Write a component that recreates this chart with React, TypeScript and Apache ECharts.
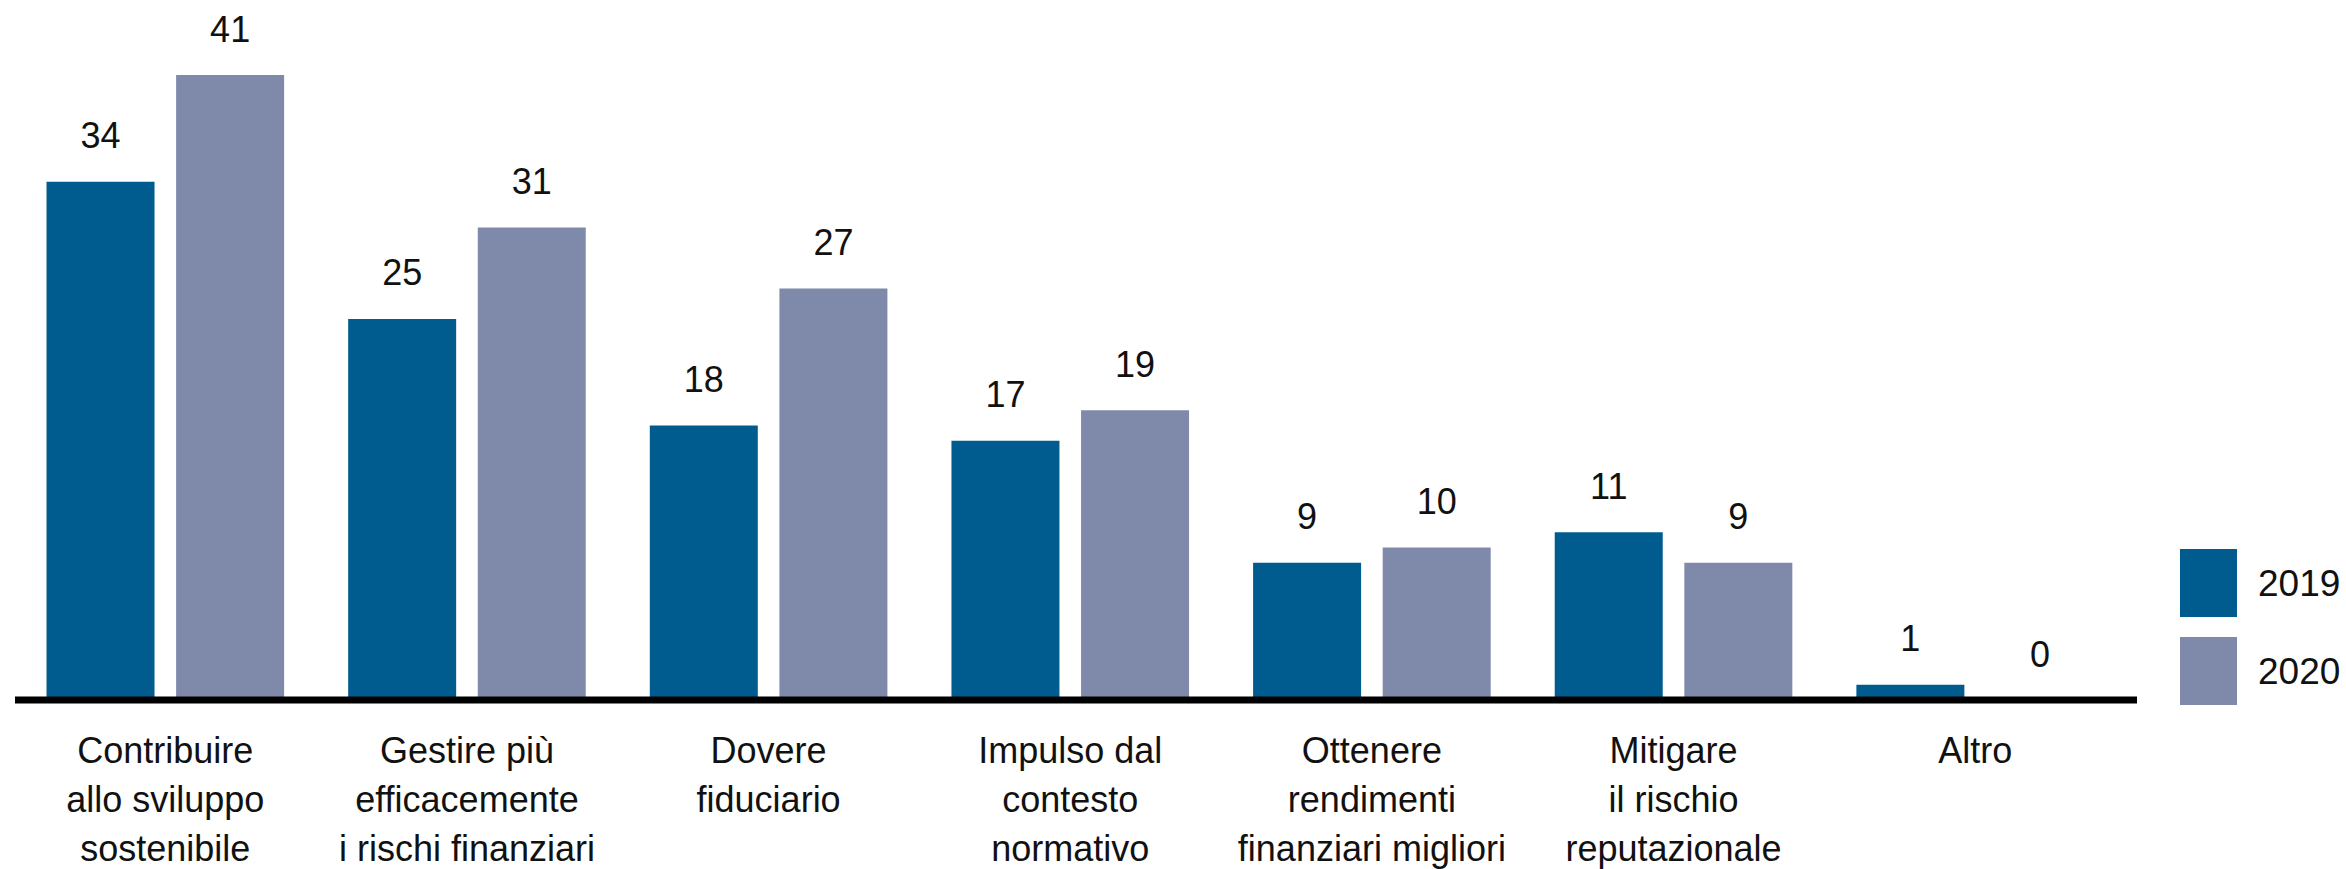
import React, { useEffect, useRef } from "react";
import * as echarts from "echarts";

const categories = [
  "Contribuire\nallo sviluppo\nsostenibile",
  "Gestire più\nefficacemente\ni rischi finanziari",
  "Dovere\nfiduciario",
  "Impulso dal\ncontesto\nnormativo",
  "Ottenere\nrendimenti\nfinanziari migliori",
  "Mitigare\nil rischio\nreputazionale",
  "Altro",
];
const values2019 = [34, 25, 18, 17, 9, 11, 1];
const values2020 = [41, 31, 27, 19, 10, 9, 0];
const seriesNames = ["2019", "2020"];
const colors = ["#005c8f", "#7f8aaa"];

const FONT = '"Liberation Sans Narrow", "Arial Narrow", "Liberation Sans", Arial, sans-serif';

export default function App() {
  const ref = useRef<HTMLDivElement>(null);
  useEffect(() => {
    document.body.style.margin = "0";
    const chart = echarts.init(ref.current!, null, { renderer: "svg" });
    const label = {
      show: true,
      position: "top",
      distance: 28,
      fontSize: 36,
      fontFamily: FONT,
      color: "#111",
    };
    chart.setOption({
      animation: false,
      backgroundColor: "#fff",
      textStyle: { fontFamily: FONT },
      grid: {
        left: 14.5,
        right: 220,
        top: 75,
        bottom: 169,
        containLabel: false,
        outerBoundsMode: "none",
      },
      legend: {
        orient: "vertical",
        left: 2175,
        top: 544,
        itemWidth: 57,
        itemHeight: 68,
        itemGap: 20,
        icon: "rect",
        data: seriesNames,
        textStyle: { fontSize: 37, fontFamily: FONT, color: "#111", padding: [0, 0, 0, 16] },
      },
      xAxis: {
        type: "category",
        data: categories,
        axisLine: { show: false },
        axisTick: { show: false },
        axisLabel: {
          interval: 0,
          margin: 26,
          fontSize: 36,
          lineHeight: 49,
          fontFamily: FONT,
          color: "#111",
          align: "center",
          verticalAlign: "top",
        },
      },
      yAxis: {
        type: "value",
        min: 0,
        max: 41,
        show: false,
        splitLine: { show: false },
      },
      graphic: [
        {
          type: "line",
          z: 100,
          shape: { x1: 15, y1: 700, x2: 2137, y2: 700 },
          style: { stroke: "#000", lineWidth: 7 },
        },
      ],
      series: [
        {
          name: seriesNames[0],
          type: "bar",
          data: values2019,
          barWidth: 108,
          barGap: "20%",
          itemStyle: { color: colors[0] },
          label,
        },
        {
          name: seriesNames[1],
          type: "bar",
          data: values2020,
          barWidth: 108,
          barGap: "20%",
          itemStyle: { color: colors[1] },
          label,
        },
      ],
    });
    return () => chart.dispose();
  }, []);
  return <div ref={ref} style={{ width: 2346, height: 869 }} />;
}
